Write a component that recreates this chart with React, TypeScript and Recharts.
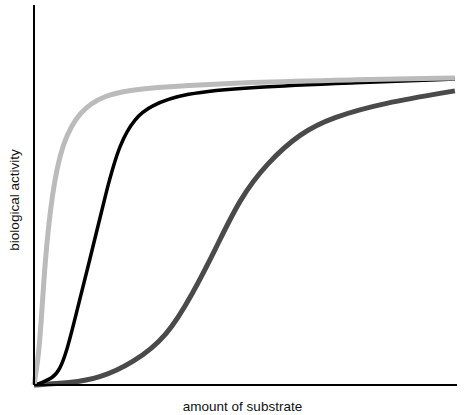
import React from "react";
import { LineChart, Line, XAxis, YAxis, Label } from "recharts";

// Values (x and y both on a 0–100 scale)
const lightX = [0, 0.95, 1.65, 2.6, 4.26, 6.6, 10.9, 16.8, 22.7, 29.8, 51.1, 74.7, 99.5];
const lightY = [0, 6.6, 15.3, 32.9, 50.5, 63.7, 72.4, 76.3, 77.6, 78.4, 79.7, 80.3, 80.8];

const blackX = [0.5, 2.1, 4.3, 6.1, 7.8, 9.2, 13.2, 17.3, 20.3, 23.9, 27.4, 35.2, 51.1, 74.7, 99.5];
const blackY = [0, 0.8, 1.8, 3.9, 9.2, 15.3, 32.9, 52.1, 63.7, 70.3, 73.4, 76.8, 78.4, 79.5, 80.5];

const darkX = [0, 8.5, 15.6, 23.4, 31.4, 37.6, 42.8, 48.7, 55.1, 62.9, 70.7, 82.5, 99.5];
const darkY = [0, 0.5, 1.8, 5.8, 12.6, 24.2, 35.5, 49.2, 58.4, 66.3, 70.5, 74.2, 77.4];

const xTitle = "amount of substrate";
const yTitle = "biological activity";

const toPoints = (xs: number[], ys: number[]) => xs.map((x, i) => ({ x, y: ys[i] }));

const lightData = toPoints(lightX, lightY);
const blackData = toPoints(blackX, blackY);
const darkData = toPoints(darkX, darkY);

const FONT = "'Liberation Sans', Arial, sans-serif";

function YTitle(props: any) {
  const vb = props.viewBox || {};
  const cx = 14;
  const cy = (vb.y ?? 0) + (vb.height ?? 0) / 2 + 5;
  return (
    <text
      x={cx}
      y={cy}
      transform={`rotate(-90 ${cx} ${cy})`}
      textAnchor="middle"
      dominantBaseline="central"
      fontSize={13.5}
      fontFamily={FONT}
      fill="#111"
    >
      {yTitle}
    </text>
  );
}

function XTitle(props: any) {
  const vb = props.viewBox || {};
  const cx = (vb.x ?? 0) + (vb.width ?? 0) / 2 - 3;
  const cy = (vb.y ?? 0) + 26;
  return (
    <text x={cx} y={cy} textAnchor="middle" fontSize={13.5} fontFamily={FONT} fill="#111">
      {xTitle}
    </text>
  );
}

export default function App() {
  return (
    <div style={{ position: "absolute", left: 0, top: 0, width: 467, height: 415, background: "#fff" }}>
      <LineChart width={467} height={415} margin={{ top: 5, right: 10, left: 0, bottom: 0 }}>
        <XAxis
          type="number"
          dataKey="x"
          domain={[0, 100]}
          tick={false}
          tickLine={false}
          height={30}
          axisLine={{ stroke: "#000", strokeWidth: 2 }}
        >
          <Label content={<XTitle />} />
        </XAxis>
        <YAxis
          type="number"
          dataKey="y"
          domain={[0, 100]}
          tick={false}
          tickLine={false}
          width={34}
          axisLine={{ stroke: "#000", strokeWidth: 2 }}
        >
          <Label content={<YTitle />} />
        </YAxis>
        <Line
          data={darkData}
          dataKey="y"
          type="basis"
          stroke="#4a4a4a"
          strokeWidth={5}
          dot={false}
          isAnimationActive={false}
        />
        <Line
          data={blackData}
          dataKey="y"
          type="basis"
          stroke="#000"
          strokeWidth={3.5}
          dot={false}
          isAnimationActive={false}
        />
        <Line
          data={lightData}
          dataKey="y"
          type="basis"
          stroke="#bbbbbb"
          strokeWidth={5}
          dot={false}
          isAnimationActive={false}
        />
      </LineChart>
    </div>
  );
}
